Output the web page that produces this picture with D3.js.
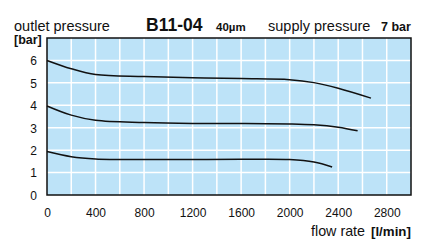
<!DOCTYPE html>
<html><head><meta charset="utf-8">
<script src="https://cdn.jsdelivr.net/npm/d3@7"></script>
<style>body{margin:0;background:#fff}svg{display:block;font-family:"Liberation Sans",Arial,sans-serif}</style>
</head><body><svg id="c" width="422" height="248"></svg>
<script>
const xTicks = [0,400,800,1200,1600,2000,2400,2800];
const yTicks = [0,1,2,3,4,5,6];
const flowHigh = [0,200,400,800,1200,1600,2000,2200,2400,2670];
const presHigh = [6.0,5.63,5.37,5.28,5.23,5.19,5.14,5.01,4.76,4.32];
const flowMid = [0,200,400,800,1200,1600,2000,2200,2400,2560];
const presMid = [3.97,3.56,3.33,3.23,3.19,3.19,3.17,3.13,3.02,2.86];
const flowLow = [0,200,400,800,1200,1600,2000,2200,2350];
const presLow = [1.94,1.71,1.61,1.58,1.58,1.59,1.58,1.47,1.25];

const svg = d3.select("#c");
const L=47,R=411,T=38,B=195;
const x = d3.scaleLinear().domain([0,3000]).range([L,R]);
const y = d3.scaleLinear().domain([0,7]).range([B,T]);

svg.append("rect").attr("x",L).attr("y",T).attr("width",R-L).attr("height",B-T).attr("fill","#bde3f8");
const g = svg.append("g");
g.selectAll("line.v").data(d3.range(200,3000,200)).join("line")
 .attr("x1",d=>x(d)).attr("x2",d=>x(d)).attr("y1",T).attr("y2",B)
 .attr("stroke","#fff").attr("stroke-width",1.5);
g.selectAll("line.h").data(d3.range(1,7)).join("line")
 .attr("y1",d=>y(d)).attr("y2",d=>y(d)).attr("x1",L).attr("x2",R)
 .attr("stroke","#fff").attr("stroke-width",1.5);

const line = d3.line().x(d=>x(d[0])).y(d=>y(d[1])).curve(d3.curveCatmullRom.alpha(0.5));
[[flowHigh,presHigh],[flowMid,presMid],[flowLow,presLow]].forEach(([f,p])=>{
  svg.append("path").attr("d",line(f.map((v,i)=>[v,p[i]])))
    .attr("fill","none").attr("stroke","#111").attr("stroke-width",1.5);
});
svg.append("rect").attr("x",L).attr("y",T).attr("width",R-L).attr("height",B-T)
 .attr("fill","none").attr("stroke","#111").attr("stroke-width",1.5);

const xa = d3.axisBottom(x).tickValues(xTicks).tickSize(0).tickPadding(0).tickFormat(d3.format("d"));
svg.append("g").attr("transform",`translate(0,${B})`).call(xa)
 .call(a=>a.select(".domain").remove())
 .selectAll("text").attr("y",22).attr("dy",0).attr("font-size",12).attr("fill","#111")
 .attr("font-family","Liberation Sans, Arial, sans-serif");
const ya = d3.axisLeft(y).tickValues(yTicks).tickSize(0).tickPadding(0).tickFormat(d3.format("d"));
svg.append("g").attr("transform",`translate(37,0)`).call(ya)
 .call(a=>a.select(".domain").remove())
 .selectAll("text").attr("x",0).attr("dy","0.36em").attr("font-size",12).attr("fill","#111")
 .attr("font-family","Liberation Sans, Arial, sans-serif");

const t = (x0,y0,s,fs,w)=>svg.append("text").attr("x",x0).attr("y",y0).attr("font-size",fs)
  .attr("font-weight",w?"bold":"normal").attr("fill","#111").text(s);
t(14,31,"outlet pressure",14.5,false);
t(146,31,"B11-04",17.5,true);
t(216,31,"40µm",11.5,true);
t(268,31,"supply pressure",14.5,false);
t(381,31,"7 bar",12.5,true);
t(14,44,"[bar]",12.5,true);
t(311,236,"flow rate",14.3,false);
t(371,236,"[l/min]",13.3,true);
</script></body></html>
